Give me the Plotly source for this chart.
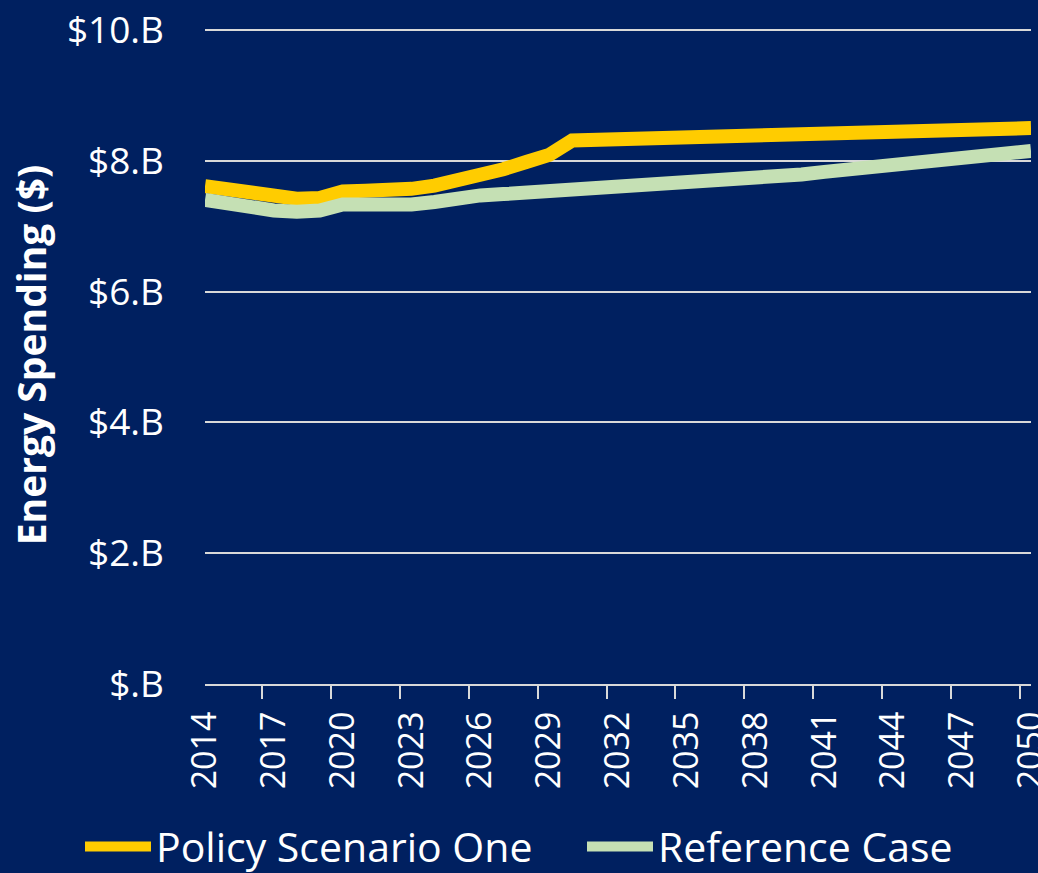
import plotly.graph_objects as go

years = [str(y) for y in range(2014, 2051)]
policy = [7.61, 7.55, 7.50, 7.45, 7.42, 7.43, 7.53, 7.54, 7.53, 7.57,
          7.62, 7.69, 7.77, 7.87, 7.98, 8.09, 8.31, 8.32, 8.32, 8.33,
          8.33, 8.34, 8.35, 8.36, 8.37, 8.38, 8.39, 8.40, 8.41, 8.42,
          8.43, 8.44, 8.45, 8.46, 8.47, 8.48, 8.50]
reference = [7.40, 7.33, 7.27, 7.24, 7.22, 7.24, 7.33, 7.32, 7.29, 7.33,
             7.37, 7.44, 7.47, 7.49, 7.51, 7.53, 7.55, 7.57, 7.59, 7.61,
             7.63, 7.65, 7.67, 7.69, 7.72, 7.75, 7.79, 7.83, 7.86, 7.90,
             7.93, 7.96, 8.00, 8.03, 8.07, 8.11, 8.15]
y_tickvals = [0, 2, 4, 6, 8, 10]
y_ticktext = ["$.B", "$2.B", "$4.B", "$6.B", "$8.B", "$10.B"]

BG = "#002060"
FONT = "Open Sans"
W, H = 1038, 873

fig = go.Figure()
fig.add_trace(go.Scatter(x=years, y=policy, mode="lines", name="Policy Scenario One",
                         line=dict(color="#FFCC00", width=14), legend="legend"))
fig.add_trace(go.Scatter(x=years, y=reference, mode="lines", name="Reference Case",
                         line=dict(color="#C5E0B4", width=14), legend="legend2"))

leg_common = dict(orientation="h", xanchor="left", xref="container",
                  yanchor="middle", yref="container", y=0.03,
                  font=dict(size=41, color="white", family=FONT), itemwidth=66,
                  bgcolor="rgba(0,0,0,0)", borderwidth=0)

fig.update_layout(
    width=W, height=H,
    paper_bgcolor=BG, plot_bgcolor=BG,
    margin=dict(l=205, r=7, t=26, b=189),
    font=dict(family=FONT, color="white", size=36),
    showlegend=True,
    legend=dict(x=80 / W, **leg_common),
    legend2=dict(x=582 / W, **leg_common),
)
fig.update_xaxes(type="category", dtick=3, tickson="boundaries", tickangle=-90,
                 ticks="outside", ticklen=13, tickwidth=2, tickcolor="#D9D9D9",
                 showline=True, linecolor="#D9D9D9", linewidth=2,
                 showgrid=False, ticklabelstandoff=12, automargin=False,
                 tickfont=dict(family=FONT, size=34, color="white"))
fig.update_yaxes(range=[0, 10.06], tickvals=y_tickvals, ticktext=y_ticktext,
                 showgrid=True, gridcolor="#D9D9D9", gridwidth=2,
                 zeroline=False, showline=False, ticks="",
                 ticklabelstandoff=40, automargin=False,
                 tickfont=dict(family=FONT, size=37, color="white"),
                 title=dict(text="<b>Energy Spending ($)</b>", standoff=8,
                            font=dict(family=FONT, size=39, color="white")))

fig.write_html("out.html",
               config={"displayModeBar": False},
               post_script="document.body.style.margin='0';"
                           "document.body.style.background='#002060';")
